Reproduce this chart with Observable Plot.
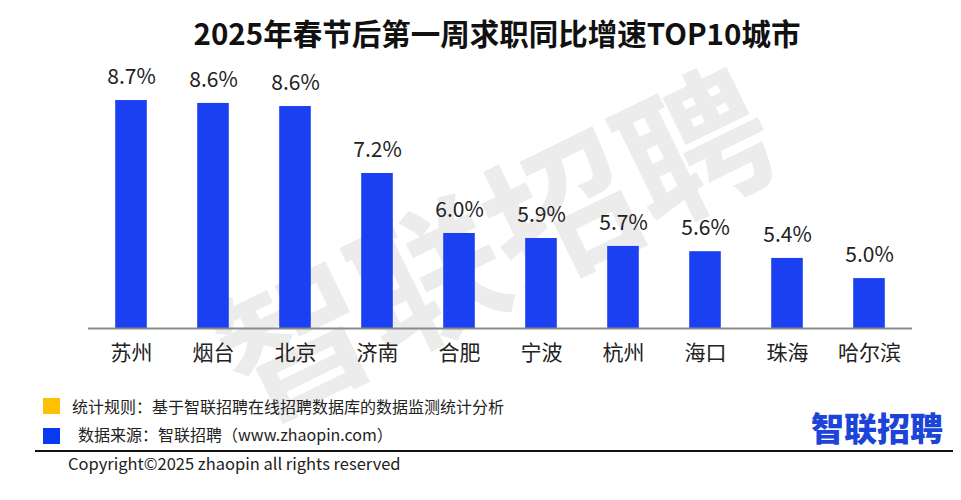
<!DOCTYPE html>
<html>
<head>
<meta charset="utf-8">
<script src="https://cdn.jsdelivr.net/npm/d3@7"></script>
<script src="https://cdn.jsdelivr.net/npm/@observablehq/plot@0.6"></script>
<style>
  html, body { margin: 0; padding: 0; background: #fff; }
  #wrap { position: relative; width: 961px; height: 500px; overflow: hidden; font-family: "Noto Sans CJK SC", "Noto Sans", sans-serif; }
  #chart { position: absolute; left: 0; top: 0; }
  .title { position: absolute; left: 0; width: 994px; top: 11px; text-align: center; font-size: 29.5px; font-weight: bold; color: #111; letter-spacing: 0px; }
  .note { position: absolute; font-size: 16px; color: #222; line-height: 18px; white-space: nowrap; }
  .sq { position: absolute; width: 17px; height: 16px; }
  .rule { position: absolute; left: 35px; width: 918px; top: 450px; height: 2px; background: #111; }
  .logo { position: absolute; left: 811px; top: 403px; font-size: 33px; font-weight: 900; color: #1c44d8; }
</style>
</head>
<body>
<div id="wrap">
  <div id="chart"></div>
  <div class="title">2025年春节后第一周求职同比增速TOP10城市</div>
  <div class="sq" style="left:43px;top:398px;background:#ffc000"></div>
  <div class="note" style="left:72px;top:397px">统计规则：基于智联招聘在线招聘数据库的数据监测统计分析</div>
  <div class="sq" style="left:43px;top:428px;background:#0a3af0"></div>
  <div class="note" style="left:78px;top:425px">数据来源：智联招聘（www.zhaopin.com）</div>
  <div class="rule"></div>
  <div class="note" style="left:68px;top:454px;font-size:16.5px">Copyright©2025 zhaopin all rights reserved</div>
  <div class="logo">智联招聘</div>
</div>
<script>
const cities = ["苏州", "烟台", "北京", "济南", "合肥", "宁波", "杭州", "海口", "珠海", "哈尔滨"];
const growth = [8.72, 8.66, 8.595, 7.2, 5.95, 5.845, 5.68, 5.57, 5.43, 5.01];
const labels = ["8.7%", "8.6%", "8.6%", "7.2%", "6.0%", "5.9%", "5.7%", "5.6%", "5.4%", "5.0%"];
const watermark = "智联招聘";

const data = cities.map((c, i) => ({city: c, value: growth[i], label: labels[i]}));
const yMin = 3.97;

const plot = Plot.plot({
  width: 961,
  height: 500,
  marginLeft: 88,
  marginRight: 49,
  marginTop: 86.6,
  marginBottom: 172,
  style: {fontFamily: "'Noto Sans CJK SC', 'Noto Sans', sans-serif", background: "transparent"},
  x: {domain: cities, padding: 0, axis: null},
  y: {domain: [yMin, 9.0], axis: null},
  marks: [
    Plot.barY(data, {x: "city", y1: yMin, y2: "value", fill: "#1b40f2", insetLeft: 25.2, insetRight: 25.2}),
    Plot.ruleY([yMin], {stroke: "#8a8a8a", strokeWidth: 2}),
    Plot.text(data, {x: "city", y: "value", text: "label", dy: -23, fontSize: 21, fill: "#222"}),
    Plot.text(data, {x: "city", text: "city", frameAnchor: "bottom", dy: 31, fontSize: 21, fill: "#222"})
  ]
});

// background watermark behind marks
const svg = d3.select(plot);
svg.insert("text", ":first-child")
  .attr("x", 0).attr("y", 0)
  .attr("transform", "translate(502,258) rotate(-26)")
  .attr("text-anchor", "middle")
  .attr("dominant-baseline", "middle")
  .attr("font-size", 148)
  .attr("font-weight", 700)
  .attr("fill", "#ececec")
  .attr("font-family", "'Noto Sans CJK SC', sans-serif")
  .text(watermark);

document.getElementById("chart").appendChild(plot);
</script>
</body>
</html>
